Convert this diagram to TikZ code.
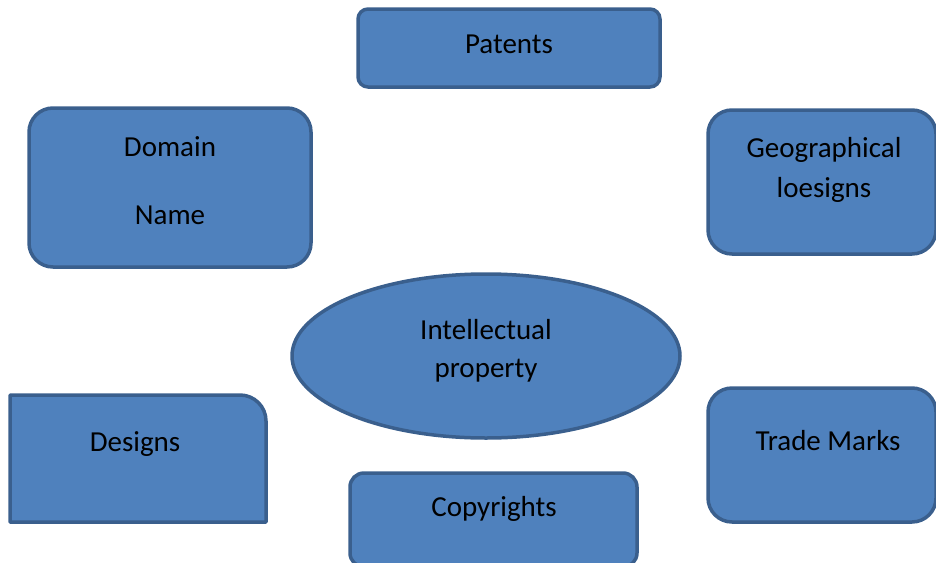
\documentclass[tikz,border=0pt]{standalone}
\usepackage{fontspec}
\setmainfont{Carlito}
\usetikzlibrary{shapes.geometric}
\definecolor{boxfill}{HTML}{4F81BD}
\definecolor{boxline}{HTML}{3A5F8D}
\tikzset{
  shapebox/.style={draw=boxline, fill=boxfill, line width=3.5pt, inner sep=0pt},
  lbl/.style={font=\fontsize{29}{34}\selectfont, text=black, inner sep=0pt}
}
\begin{document}
\begin{tikzpicture}[x=1pt,y=-1pt]
\useasboundingbox (0,0) rectangle (936,562);
% Patents
\node[shapebox, rounded corners=10pt, minimum width=302pt, minimum height=78pt] (patents) at (509,48) {};
\node[lbl] (tpatents) at (509,44) {Patents};
% Domain Name
\node[shapebox, rounded corners=24pt, minimum width=282pt, minimum height=159pt] (domain) at (170,187.5) {};
\node[lbl] (tdomain1) at (170,147) {Domain};
\node[lbl] (tdomain2) at (170,215) {Name};
% Geographical
\node[shapebox, rounded corners=24pt, minimum width=228pt, minimum height=144pt] (geo) at (822,182) {};
\node[lbl] (tgeo1) at (824,150) {Geographical};
\node[lbl] (tgeo2) at (824,190) {loesigns};
% Intellectual property
\node[shapebox, ellipse, minimum width=388pt, minimum height=164pt] (ip) at (486,356) {};
\node[lbl] (tip1) at (486,330) {Intellectual};
\node[lbl] (tip2) at (486,371) {property};
% Designs
\draw[draw=boxline, fill=boxfill, line width=3.5pt, line join=round]
  (10,395) -- (240,395) arc[start angle=-90, end angle=0, radius=26] -- (266,522) -- (10,522) -- cycle;
\coordinate (designs) at (138,458);
\node[lbl] (tdesigns) at (135,444) {Designs};
% Trade Marks
\node[shapebox, rounded corners=24pt, minimum width=228pt, minimum height=134pt] (tm) at (822,455) {};
\node[lbl] (ttm) at (828,441) {Trade Marks};
% Copyrights
\node[shapebox, rounded corners=14pt, minimum width=287pt, minimum height=94pt] (copy) at (493.5,520) {};
\node[lbl] (tcopy) at (494,509) {Copyrights};
\end{tikzpicture}
\end{document}
